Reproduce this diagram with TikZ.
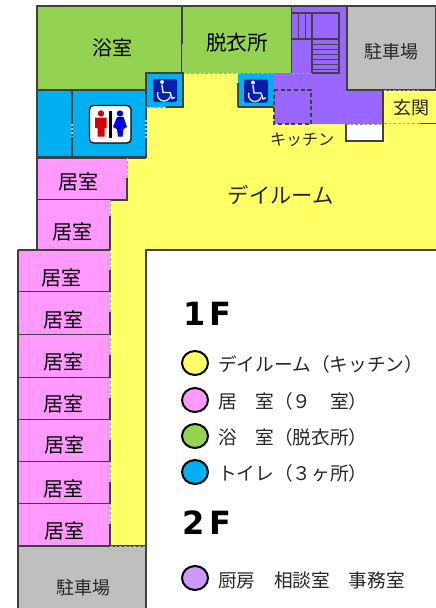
\documentclass[tikz,border=0pt]{standalone}
\usepackage{fontspec}
\setmainfont{Noto Sans CJK JP}
\newfontfamily\headfont{DejaVu Sans}
\definecolor{cgreen}{HTML}{94D352}
\definecolor{cyellow}{HTML}{FFFF66}
\definecolor{cpink}{HTML}{FF99FF}
\definecolor{cblue}{HTML}{00B0F0}
\definecolor{cpurple}{HTML}{9966FF}
\definecolor{cgray}{HTML}{BFBFBF}
\definecolor{clegpurple}{HTML}{CC99FF}
\definecolor{cwall}{HTML}{404040}
\definecolor{cicon}{HTML}{0A1EA8}
\tikzset{
  wall/.style={draw=cwall,line width=1.05pt,line join=miter},
  thin wall/.style={draw=cwall,line width=0.8pt},
  door/.style={draw=cwall!45,line width=0.7pt,dash pattern=on 2pt off 1.5pt},
  kdash/.style={draw=cwall,line width=0.8pt,dash pattern=on 3pt off 2pt},
  stairline/.style={draw=cwall!90!cpurple,line width=0.6pt},
  roomlabel/.style={inner sep=0pt,font=\fontsize{15}{15}\selectfont,text=black},
  smlabel/.style={inner sep=0pt,font=\fontsize{13.5}{14}\selectfont,text=black!85},
  legtext/.style={inner sep=0pt,anchor=west,font=\fontsize{14}{15}\selectfont,text=black!85},
  head/.style={inner sep=0pt,anchor=west,font=\headfont\bfseries\fontsize{24}{24}\selectfont},
  legdot/.style={draw=black,line width=1.5pt},
  wheelchair/.pic={
    \fill[cicon,rounded corners=1.2pt] (-12,-11.5) rectangle (12,11.5);
    \fill[white!85!cblue] (-3,-8.5) circle (2);
    \draw[white!85!cblue,line width=1.1pt,line cap=round,line join=round]
      (-3,-5.5) -- (-2,2) -- (5,2) -- (7,8) -- (9.5,7);
    \draw[white!85!cblue,line width=1pt] (-7.1,1.8) arc[start angle=200,end angle=20,radius=6.5];
  },
}
\begin{document}
\begin{tikzpicture}[x=0.75pt,y=-0.75pt]
\useasboundingbox (0,0) rectangle (436,608);
% yellow day room
\fill[cyellow] (182,73) -- (292,73) -- (292,124) -- (436,124) -- (436,250) -- (146,250) -- (146,546) -- (110,546) -- (110,200) -- (127,200) -- (127,158) -- (146,158) -- (146,107) -- (182,107) -- cycle;
\fill[cyellow] (384,90) rectangle (436,123);
\draw[wall] (436,250) -- (146,250) -- (146,546);
% bath and dressing room
\path[fill=cgreen,wall] (37,6) -- (182,6) -- (182,73) -- (146,73) -- (146,90) -- (37,90) -- cycle;
\path[fill=cgreen] (182,6) rectangle (292,73);
\draw[wall] (182,6) -- (292,6) -- (292,73);
\draw[wall] (182,6) -- (182,44);
\draw[door] (182,44) -- (182,73) (182,73) -- (292,73);
% toilets
\path[fill=cblue,wall] (37,90) rectangle (146,157);
\draw[thin wall] (72,90) -- (72,157);
\draw[cblue!50!white,line width=1pt,dash pattern=on 1.5pt off 1.5pt] (72,124) -- (72,137) (146,120) -- (146,138);
\path[fill=cblue] (146,73) rectangle (183,107);
\draw[wall] (146,107) -- (146,73) -- (183,73) -- (183,107) -- (166,107);
\draw[door] (146,107) -- (166,107);
\fill[cblue] (238,73) rectangle (274,107);
\draw[wall] (238,107) -- (274,107);
\draw[thin wall] (238,83) -- (238,107);
\draw[door] (238,73) -- (274,73);
% purple kitchen
\path[fill=cpurple] (292,6) -- (347,6) -- (347,90) -- (383,90) -- (383,124) -- (274,124) -- (274,73) -- (292,73) -- cycle;
\draw[wall] (292,6) -- (347,6) -- (347,90);
\draw[wall] (383,90) -- (383,141) -- (346,141) -- (346,124);
\fill[white] (347,124) rectangle (382.5,140.5);
\draw[wall] (346,124) -- (346,141) -- (383,141) -- (383,124);
\draw[door,draw=cwall!60] (346,124) -- (383,124);
\draw[kdash] (274,90) -- (311,90) -- (311,124) -- (274,124) -- cycle;
% stairs
\draw[wall] (292,39) -- (312,39) -- (312,73) -- (339,73) -- (339,13) -- (292,13);
\draw[thin wall] (312,13) -- (312,39) -- (339,39);
\foreach \xx in {298,305} \draw[stairline] (\xx,13) -- (\xx,39);
\foreach \yy in {44,49,54,59,64,69} \draw[stairline] (312,\yy) -- (339,\yy);
\draw[door] (292,73) -- (312,73);
% parking
\path[fill=cgray,wall] (347,6) -- (436,6) -- (436,90) -- (347,90) -- cycle;
\path[fill=cgray,wall] (18,546) -- (146,546) -- (146,609) -- (18,609) -- cycle;
% entrance
\draw[thin wall] (420,90) -- (436,90) (420,123.5) -- (436,123.5);
\draw[door] (384,90) -- (420,90) (384,123.5) -- (420,123.5);
\draw[door] (436,90) -- (436,123.5);
% rooms
\path[fill=cpink] (37,158) rectangle (127,200);
\draw[wall] (37,158) -- (146,158) (37,158) -- (37,200) -- (127,200) -- (127,178);
\draw[door] (127,178) -- (127,158);
\path[fill=cpink] (37,200) rectangle (110,250);
\draw[wall] (37,200) -- (37,250);
\draw[wall] (110,250) -- (110,216);
\draw[door] (110,216) -- (110,200);
\foreach \rt/\rb in {250/292,292/335,335/378,378/420,420/462,462/504,504/546}{
  \path[fill=cpink] (18,\rt) rectangle (110,\rb);
  \draw[wall] (18,\rt) -- (18,\rb);
  \draw[wall] (18,\rb) -- (110,\rb);
  \pgfmathsetmacro{\rm}{\rt+20}
  \draw[wall] (110,\rb) -- (110,\rm);
  \draw[door] (110,\rm) -- (110,\rt);
}
\draw[wall] (18,250) -- (110,250);
\draw[door] (110,546) -- (146,546);
% pictograms
\pic at (165,90.5) {wheelchair};
\pic at (256,91) {wheelchair};
\path[fill=white,draw=black,line width=0.9pt,rounded corners=3pt] (89.5,105.5) rectangle (131,143);
\fill[red!85!black] (101,113.5) circle (3.2);
\fill[red!85!black] (95,117.5) rectangle (106.5,128) (97.5,128) rectangle (104.5,136.5);
\fill[black] (108.5,111) rectangle (111.5,137.5);
\fill[blue!90!black] (120,113.5) circle (3.2);
\fill[blue!90!black] (117,117) -- (123.5,117) -- (127,127) -- (123.5,129) -- (122.5,136.5) -- (118,136.5) -- (117,129) -- (113,127) -- cycle;
% labels
\node[roomlabel] (bath) at (112,48) {浴室};
\node[roomlabel,font=\fontsize{15.5}{16}\selectfont] (dress) at (237,43) {脱衣所};
\node[smlabel] (park1) at (391,52) {駐車場};
\node[smlabel] (entr) at (411,108) {玄関};
\node[inner sep=0pt,font=\fontsize{12}{12}\selectfont,text=black!85] (kit) at (302,140) {キッチン};
\node[inner sep=0pt,font=\fontsize{16}{16}\selectfont,text=black!85] (day) at (281,195) {デイルーム};
\node[roomlabel] (r1) at (79,182) {居室};
\node[roomlabel] (r2) at (72,232) {居室};
\node[roomlabel] (r3) at (61,277.5) {居室};
\node[roomlabel] (r4) at (63,319.5) {居室};
\node[roomlabel] (r5) at (63,362) {居室};
\node[roomlabel] (r6) at (63,404) {居室};
\node[roomlabel] (r7) at (65,445) {居室};
\node[roomlabel] (r8) at (63,489) {居室};
\node[roomlabel] (r9) at (65,530.5) {居室};
\node[smlabel] (park2) at (83,588) {駐車場};
% legend
\node[head] (f1a) at (183,314) {1};
\node[head] (f1b) at (209,314) {F};
\node[head] (f2a) at (182,523) {2};
\node[head] (f2b) at (209,523) {F};
\path[fill=cyellow,legdot] (195,363) ellipse (13 and 12);
\path[fill=cpink,legdot] (195,400) ellipse (13 and 12);
\path[fill=cgreen,legdot] (195,436) ellipse (13 and 12);
\path[fill=cblue,legdot] (195,472) ellipse (13 and 12);
\path[fill=clegpurple,legdot] (195,578) ellipse (13 and 12);
\node[legtext] (l1) at (218,364) {デイルーム（キッチン）};
\node[legtext] (l2) at (218,401) {居\hspace{1em}室（９\hspace{1em}室）};
\node[legtext] (l3) at (218,437) {浴\hspace{1em}室（脱衣所）};
\node[legtext] (l4) at (218,473) {トイレ（３ヶ所）};
\node[legtext] (l5) at (218,580) {厨房\hspace{1em}相談室\hspace{1em}事務室};
\end{tikzpicture}
\end{document}
